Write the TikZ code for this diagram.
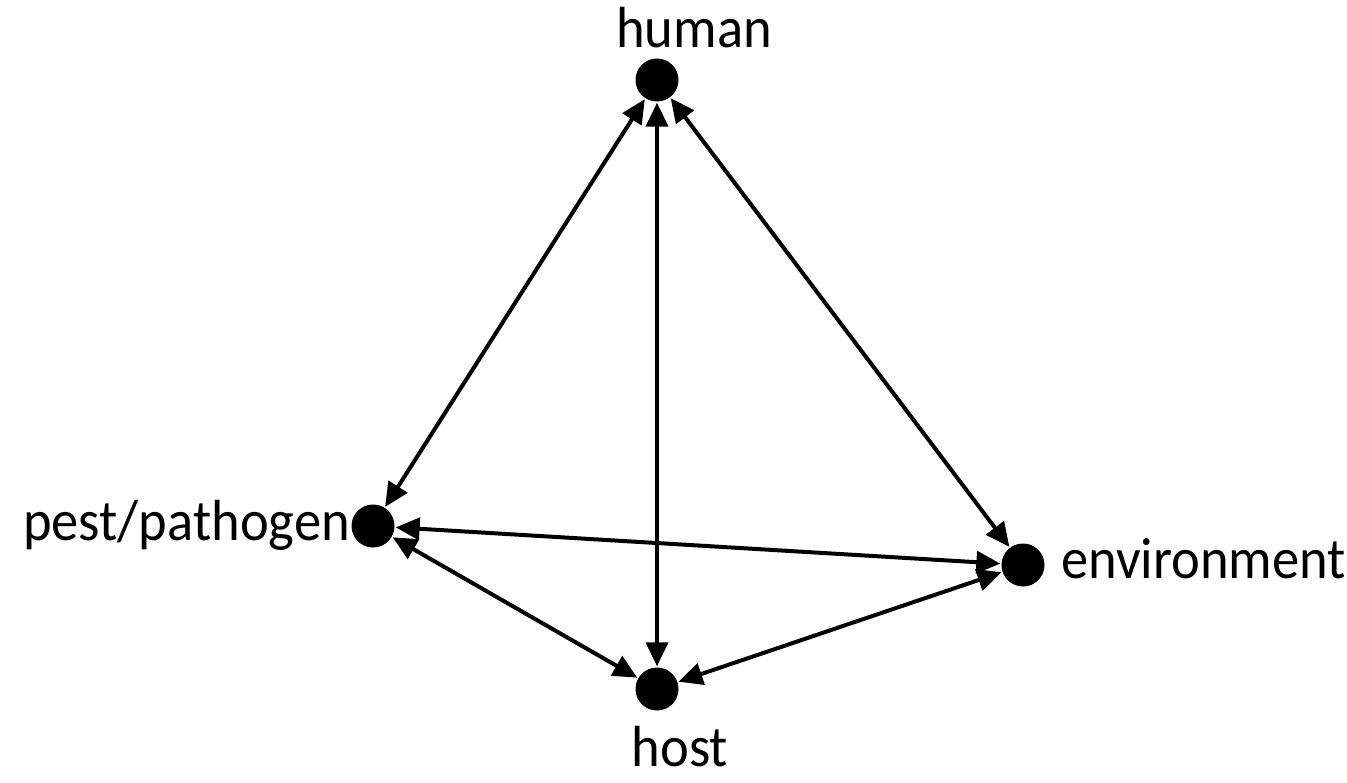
\documentclass[tikz,border=0pt]{standalone}
\usepackage{fontspec}
\setmainfont{Carlito}[FakeStretch=0.94]
\usetikzlibrary{arrows.meta}
\begin{document}
\begin{tikzpicture}[x=1pt,y=-1pt,
  dot/.style={circle,fill=black,minimum size=43pt,inner sep=0pt},
  lbl/.style={inner sep=0pt,font=\fontsize{58}{62}\selectfont},
  link/.style={line width=4pt,{Triangle[length=24pt,width=22pt]}-{Triangle[length=24pt,width=22pt]},shorten <=1pt,shorten >=1pt}]
\useasboundingbox (0,0) rectangle (1347,783);
\node[dot] (human) at (657,80) {};
\node[dot] (pest) at (373,526) {};
\node[dot] (env) at (1023,565) {};
\node[dot] (host) at (657,689) {};
\node[lbl,anchor=base] (humanlbl) at (694,48) {human};
\node[lbl,anchor=base east] (pestlbl) at (350,540) {pest/pathogen};
\node[lbl,anchor=base west] (envlbl) at (1061,578) {environment};
\node[lbl,anchor=base] (hostlbl) at (680,766) {host};
\draw[link] (human) -- (pest);
\draw[link] (human) -- (host);
\draw[link] (human) -- (env);
\draw[link] (pest) -- (env);
\draw[link] (pest) -- (host);
\draw[link] (host) -- (env);
\end{tikzpicture}
\end{document}
